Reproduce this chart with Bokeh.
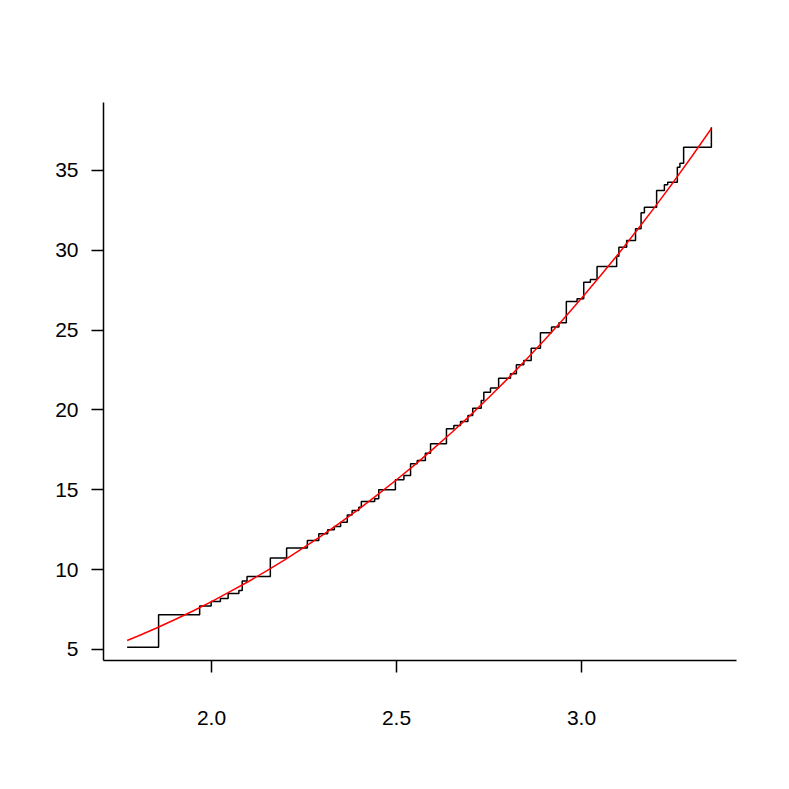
from bokeh.plotting import figure
from bokeh.models import Range1d, FixedTicker
from bokeh.embed import file_html
from bokeh.resources import INLINE

# Step series (points at the corner where each vertical ends)
step_x = [1.772, 1.857, 1.968, 1.999, 2.024, 2.045, 2.074, 2.083, 2.096, 2.159,
          2.203, 2.259, 2.290, 2.314, 2.332, 2.349, 2.367, 2.380, 2.398, 2.405,
          2.441, 2.452, 2.497, 2.520, 2.538, 2.556, 2.578, 2.592, 2.635, 2.655,
          2.673, 2.693, 2.706, 2.729, 2.736, 2.754, 2.776, 2.808, 2.824, 2.844,
          2.864, 2.889, 2.919, 2.939, 2.959, 2.988, 3.006, 3.024, 3.042, 3.095,
          3.101, 3.122, 3.146, 3.161, 3.170, 3.203, 3.224, 3.233, 3.259, 3.266,
          3.276, 3.351]
step_y = [5.14, 7.17, 7.72, 8.01, 8.19, 8.51, 8.70, 9.29, 9.57, 10.73,
          11.36, 11.83, 12.25, 12.50, 12.70, 12.97, 13.42, 13.71, 13.91, 14.27,
          14.44, 15.00, 15.63, 15.90, 16.63, 16.84, 17.29, 17.88, 18.82, 19.03,
          19.28, 19.66, 20.11, 20.60, 21.11, 21.37, 21.99, 22.27, 22.83, 23.10,
          23.87, 24.84, 25.19, 25.46, 26.80, 26.96, 28.00, 28.17, 28.99, 29.63,
          30.20, 30.62, 31.35, 32.35, 32.70, 33.75, 34.10, 34.27, 35.21, 35.46,
          36.46, 37.71]

# Smooth red curve
curve_x = [1.772, 1.80, 1.85, 1.90, 1.95, 2.00, 2.05, 2.10, 2.15, 2.20, 2.25,
           2.30, 2.35, 2.40, 2.45, 2.50, 2.55, 2.60, 2.65, 2.70, 2.75, 2.80,
           2.85, 2.90, 2.95, 3.00, 3.05, 3.10, 3.15, 3.20, 3.25, 3.30, 3.351]
curve_y = [5.56, 5.83, 6.33, 6.86, 7.41, 8.00, 8.62, 9.26, 9.94, 10.65, 11.39,
           12.17, 12.98, 13.82, 14.71, 15.63, 16.58, 17.58, 18.61, 19.68, 20.80,
           21.95, 23.15, 24.39, 25.67, 27.00, 28.37, 29.79, 31.26, 32.77, 34.33,
           35.94, 37.63]

x_ticks = [2.0, 2.5, 3.0]
x_tick_labels = ["2.0", "2.5", "3.0"]
y_ticks = [5, 10, 15, 20, 25, 30, 35]
y_tick_labels = ["5", "10", "15", "20", "25", "30", "35"]

W, H = 772, 772
p = figure(width=W, height=H, output_backend="svg", toolbar_location=None,
           x_range=Range1d(1.7081, 3.4189), y_range=Range1d(4.311, 39.258),
           min_border_left=103, min_border_right=36, min_border_top=102,
           min_border_bottom=112)
p.outline_line_color = None
p.grid.visible = False
p.background_fill_color = "white"
p.border_fill_color = "white"

p.step(step_x, step_y, mode="after", line_color="black", line_width=1.5)
p.line(curve_x, curve_y, line_color="#FF0000", line_width=1.5)

font = "Liberation Sans"
p.xaxis.ticker = FixedTicker(ticks=x_ticks)
p.xaxis.major_label_overrides = {t: l for t, l in zip(x_ticks, x_tick_labels)}
p.yaxis.ticker = FixedTicker(ticks=y_ticks)
p.yaxis.major_label_overrides = {t: l for t, l in zip(y_ticks, y_tick_labels)}
for ax in (p.xaxis, p.yaxis):
    ax.axis_line_color = "black"
    ax.axis_line_width = 1.5
    ax.major_tick_line_color = "black"
    ax.major_tick_line_width = 1.5
    ax.major_tick_out = 12
    ax.major_tick_in = 0
    ax.minor_tick_line_color = None
    ax.major_label_text_font = font
    ax.major_label_text_font_size = "21px"
    ax.major_label_text_color = "black"
p.xaxis.major_label_standoff = 38
p.yaxis.major_label_standoff = 13
p.yaxis.major_label_orientation = "horizontal"

open("out.html", "w").write(file_html(p, INLINE))
